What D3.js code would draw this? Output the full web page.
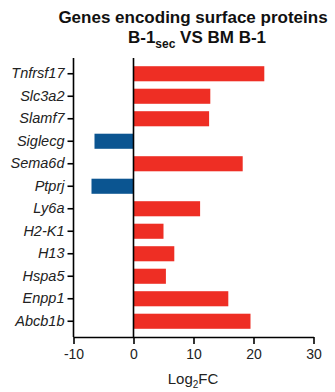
<!DOCTYPE html>
<html>
<head>
<meta charset="utf-8">
<script src="https://cdn.jsdelivr.net/npm/d3@7"></script>
<style>
  html, body { margin: 0; padding: 0; background: #fff; }
  svg { display: block; }
</style>
</head>
<body>
<svg id="chart" width="335" height="392"></svg>
<script>
// Genes encoding surface proteins, log2 fold change B-1sec vs BM B-1
const genes = ["Tnfrsf17", "Slc3a2", "Slamf7", "Siglecg", "Sema6d", "Ptprj",
               "Ly6a", "H2-K1", "H13", "Hspa5", "Enpp1", "Abcb1b"];
const log2fc = [21.8, 12.8, 12.6, -6.5, 18.2, -7.0, 11.1, 5.0, 6.8, 5.4, 15.8, 19.5];
const xTicks = [-10, 0, 10, 20, 30];

const svg = d3.select("#chart");
const font = "'Liberation Sans', Arial, sans-serif";
const upColor = "#ee2e24";
const downColor = "#0b5591";

const x = d3.scaleLinear().domain([-10, 30]).range([73.5, 313.5]);
const y = d3.scaleBand().domain(genes).range([58, 337])
  .paddingInner(0.33).paddingOuter(0.365);

// bars
svg.append("g").selectAll("rect")
  .data(genes.map((g, i) => ({ gene: g, v: log2fc[i] })))
  .join("rect")
  .attr("x", d => x(Math.min(0, d.v)))
  .attr("y", d => y(d.gene))
  .attr("width", d => Math.abs(x(d.v) - x(0)))
  .attr("height", y.bandwidth())
  .attr("fill", d => d.v >= 0 ? upColor : downColor);

// zero line
svg.append("line")
  .attr("x1", x(0)).attr("x2", x(0))
  .attr("y1", 58).attr("y2", 337)
  .attr("stroke", "#000").attr("stroke-width", 1.6);

// x axis
const xAxis = svg.append("g")
  .attr("transform", "translate(0,337)")
  .call(d3.axisBottom(x).tickValues(xTicks).tickFormat(d => String(d))
    .tickSize(7).tickSizeOuter(0).tickPadding(5));
xAxis.select(".domain").attr("stroke", "#000").attr("stroke-width", 1.6);
xAxis.selectAll(".tick line").attr("stroke", "#000").attr("stroke-width", 1.6);
xAxis.selectAll("text").attr("font-family", font).attr("font-size", 14).attr("fill", "#222");

// y axis
const yAxis = svg.append("g")
  .attr("transform", `translate(${x(-10)},0)`)
  .call(d3.axisLeft(y).tickSize(6).tickSizeOuter(0).tickPadding(3));
yAxis.select(".domain").attr("stroke", "#000").attr("stroke-width", 1.6)
  .attr("d", "M0,58V337");
yAxis.selectAll(".tick line").attr("stroke", "#000").attr("stroke-width", 1.6);
yAxis.selectAll("text").attr("font-family", font).attr("font-size", 14.5)
  .attr("font-style", "italic").attr("fill", "#222");

// x axis title
const xt = svg.append("text")
  .attr("x", 193).attr("y", 384)
  .attr("text-anchor", "middle")
  .attr("font-family", font).attr("font-size", 15).attr("fill", "#222");
xt.append("tspan").text("Log");
xt.append("tspan").attr("font-size", 10).attr("dy", 4).text("2");
xt.append("tspan").attr("dy", -4).text("FC");

// title
svg.append("text")
  .attr("x", 193).attr("y", 23)
  .attr("text-anchor", "middle")
  .attr("font-family", font).attr("font-size", 17).attr("font-weight", "bold")
  .attr("fill", "#111")
  .text("Genes encoding surface proteins");
const t2 = svg.append("text")
  .attr("x", 197).attr("y", 43)
  .attr("text-anchor", "middle")
  .attr("font-family", font).attr("font-size", 17).attr("font-weight", "bold")
  .attr("fill", "#111");
t2.append("tspan").text("B-1");
t2.append("tspan").attr("font-size", 12).attr("dy", 5).text("sec");
t2.append("tspan").attr("dy", -5).text(" VS BM B-1");
</script>
</body>
</html>
